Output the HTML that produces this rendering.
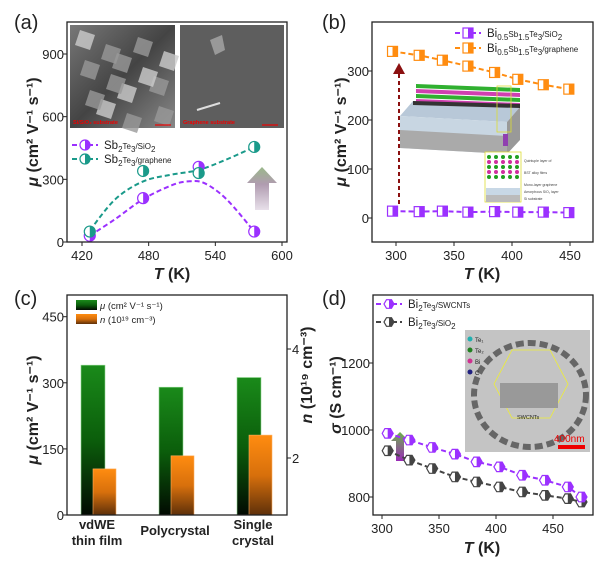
<!DOCTYPE html>
<html><head><meta charset="utf-8"><style>
body{margin:0;background:#fff}
svg{display:block;font-family:"Liberation Sans",Arial,sans-serif}
</style></head><body>
<svg id="fig" width="600" height="580" viewBox="0 0 600 580">
<defs>
<linearGradient id="gGreen" x1="0" y1="0" x2="0" y2="1"><stop offset="0" stop-color="#1a8a1a"/><stop offset="0.5" stop-color="#0b5e0b"/><stop offset="1" stop-color="#020a02"/></linearGradient>
<linearGradient id="gOrange" x1="0" y1="0" x2="0" y2="1"><stop offset="0" stop-color="#ff8c10"/><stop offset="0.5" stop-color="#d8700c"/><stop offset="1" stop-color="#5e300a"/></linearGradient>
<linearGradient id="gArrowA" x1="0" y1="0" x2="0" y2="1"><stop offset="0" stop-color="#9ab88a"/><stop offset="0.4" stop-color="#b09cb0"/><stop offset="1" stop-color="#e8e0ea"/></linearGradient>
<linearGradient id="gArrowD" x1="0" y1="0" x2="0" y2="1"><stop offset="0" stop-color="#6cb04c"/><stop offset="1" stop-color="#9a2ab8"/></linearGradient>
<linearGradient id="gSem1" x1="0" y1="0" x2="1" y2="1"><stop offset="0" stop-color="#777"/><stop offset="0.5" stop-color="#444"/><stop offset="1" stop-color="#888"/></linearGradient>
</defs>
</svg>
<script>
// ---------- data ----------
const aT = [427, 475, 525, 575];
const aSiO2 = [30, 210, 360, 50];
const aGraphene = [50, 340, 330, 455];
const aFitT1 = [427, 450, 475, 500, 515, 530, 550, 575];
const aFitV1 = [30, 110, 205, 270, 290, 282, 205, 50];
const aFitT2 = [427, 450, 475, 500, 525, 550, 575];
const aFitV2 = [55, 205, 290, 322, 345, 395, 455];
const aXTicks = [420, 480, 540, 600];
const aYTicks = [0, 300, 600, 900];

const bT = [297, 320, 340, 362, 385, 405, 427, 449];
const bGraphene = [340, 332, 322, 310, 297, 283, 272, 263];
const bSiO2 = [14, 13, 14, 12, 13, 12, 12, 11];
const bXTicks = [300, 350, 400, 450];
const bYTicks = [0, 100, 200, 300];

const cCategories = [["vdWE","thin film"], ["Polycrystal"], ["Single","crystal"]];
const cMobility = [340, 290, 312];
const cCarrier = [1.8, 2.04, 2.42];
const cYTicks = [0, 150, 300, 450];
const cY2Ticks = [2, 4];

const dT = [305, 324, 344, 364, 383, 403, 423, 443, 463, 475];
const dSWCNT = [990, 970, 948, 928, 905, 890, 865, 850, 830, 800];
const dSiO2 = [938, 910, 885, 860, 845, 830, 815, 805, 795, 785];
const dXTicks = [300, 350, 400, 450];
const dYTicks = [800, 1000, 1200];

// ---------- helpers ----------
const NS = "http://www.w3.org/2000/svg";
const svg = document.getElementById("fig");
function mk(tag, attrs, parent, text) {
  const e = document.createElementNS(NS, tag);
  for (const k in attrs) e.setAttribute(k, attrs[k]);
  if (text !== undefined) e.textContent = text;
  (parent || svg).appendChild(e);
  return e;
}
function lin(d0, d1, r0, r1) { return v => r0 + (v - d0) * (r1 - r0) / (d1 - d0); }
function smooth(pts) {
  let d = "M" + pts[0][0] + "," + pts[0][1];
  for (let i = 0; i < pts.length - 1; i++) {
    const p0 = pts[Math.max(0, i - 1)], p1 = pts[i], p2 = pts[i + 1], p3 = pts[Math.min(pts.length - 1, i + 2)];
    const c1x = p1[0] + (p2[0] - p0[0]) / 6, c1y = p1[1] + (p2[1] - p0[1]) / 6;
    const c2x = p2[0] - (p3[0] - p1[0]) / 6, c2y = p2[1] - (p3[1] - p1[1]) / 6;
    d += " C" + c1x + "," + c1y + " " + c2x + "," + c2y + " " + p2[0] + "," + p2[1];
  }
  return d;
}
function frame(g, x0, y0, x1, y1) {
  const r = mk("rect", {x: x0, y: y0, width: x1 - x0, height: y1 - y0, fill: "none", stroke: "#222", "stroke-width": 1.3}, g);
  
  
}
function xTicks(g, ticks, sx, y, name) {
  ticks.forEach(t => {
    mk("line", {x1: sx(t), x2: sx(t), y1: y, y2: y + 4, stroke: "#222", "stroke-width": 1}, g);
    const tx = mk("text", {x: sx(t), y: y + 18, "text-anchor": "middle", "font-size": 13, fill: "#222"}, g, t);
    
    
  });
}
function yTicks(g, ticks, sy, x, name, right) {
  ticks.forEach(t => {
    mk("line", {x1: x, x2: right ? x + 4 : x - 4, y1: sy(t), y2: sy(t), stroke: "#222", "stroke-width": 1}, g);
    const tx = mk("text", {x: right ? x + 5 : x - 3, y: sy(t) + 5, "text-anchor": right ? "start" : "end", "font-size": 13, fill: "#222"}, g, t);
    
    
  });
}
function label(g, x, y, txt, name) {
  const t = mk("text", {x: x, y: y, "font-size": 20, fill: "#222"}, g, txt);
  
  
}
function xTitle(g, cx, y, name) {
  const t = mk("text", {x: cx, y: y, "text-anchor": "middle", "font-size": 16, "font-weight": "bold", fill: "#222"}, g);
  mk("tspan", {"font-style": "italic"}, t, "T");
  mk("tspan", {}, t, " (K)");
  
  
}
function yTitleMu(g, x, cy, name) {
  const t = mk("text", {x: 0, y: 0, "text-anchor": "middle", "font-size": 16, "font-weight": "bold", fill: "#222", transform: "translate(" + x + "," + cy + ") rotate(-90)"}, g);
  mk("tspan", {"font-style": "italic"}, t, "μ");
  mk("tspan", {}, t, " (cm² V⁻¹ s⁻¹)");
  
  
}
function marker(g, shape, x, y, color, r) {
  const m = mk("g", {}, g);
  if (shape === "circle") {
    mk("circle", {cx: x, cy: y, r: r, fill: "#fff", stroke: color, "stroke-width": 1.2}, m);
    mk("path", {d: "M" + x + "," + (y - r) + " A" + r + "," + r + " 0 0 1 " + x + "," + (y + r) + " Z", fill: color}, m);
  } else if (shape === "square") {
    mk("rect", {x: x - r, y: y - r, width: 2 * r, height: 2 * r, fill: "#fff", stroke: color, "stroke-width": 1.2}, m);
    mk("rect", {x: x, y: y - r, width: r, height: 2 * r, fill: color}, m);
  } else {
    const pts = [];
    for (let i = 0; i < 6; i++) { const a = Math.PI / 3 * i; pts.push((x + r * Math.cos(a)).toFixed(1) + "," + (y + r * Math.sin(a)).toFixed(1)); }
    mk("polygon", {points: pts.join(" "), fill: "#fff", stroke: color, "stroke-width": 1.2}, m);
    mk("path", {d: "M" + x + "," + (y - r * 0.87) + " L" + (x + r * 0.5) + "," + (y - r * 0.87) + " L" + (x + r) + "," + y + " L" + (x + r * 0.5) + "," + (y + r * 0.87) + " L" + x + "," + (y + r * 0.87) + " Z", fill: color}, m);
  }
  return m;
}
function series(g, xs, ys, sx, sy, color, shape, name, r, line) {
  if (line) {
    const pts = xs.map((t, i) => sx(t) + "," + sy(ys[i])).join(" ");
    const pl = mk("polyline", {points: pts, fill: "none", stroke: color, "stroke-width": 2, "stroke-dasharray": "5,3"}, g);
    
    
  }
  xs.forEach((t, i) => {
    const m = marker(g, shape, sx(t), sy(ys[i]), color, r);
    
    
  });
}
function legendEntry(g, x, y, color, shape, html, name) {
  const e = mk("g", {}, g);
  mk("line", {x1: x, x2: x + 26, y1: y, y2: y, stroke: color, "stroke-width": 2, "stroke-dasharray": "5,3"}, e);
  marker(e, shape, x + 13, y, color, 5);
  const t = mk("text", {x: x + 32, y: y + 4, "font-size": 11.5, fill: "#222"}, e);
  html.forEach(p => mk("tspan", p[1] ? {"font-size": 8, dy: p[1]} : {}, t, p[0]));
  
  
}

// ---------- panel (a) ----------
(function () {
  const g = mk("g", {});  
  const sx = lin(420, 600, 82, 282), sy = lin(0, 900, 242, 54);
  const s1 = mk("rect", {x: 70, y: 25, width: 105, height: 103, fill: "url(#gSem1)"}, g);
   
  for (let i = 0; i < 14; i++) mk("polygon", {points: [[80 + (i * 37) % 90, 30 + (i * 23) % 85], [95 + (i * 37) % 90, 35 + (i * 23) % 85], [90 + (i * 37) % 90, 50 + (i * 23) % 85], [75 + (i * 37) % 90, 45 + (i * 23) % 85]].map(p => p.join(",")).join(" "), fill: i % 3 ? "#999" : "#ccc", opacity: 0.8}, g);
  mk("text", {x: 73, y: 124, "font-size": 5.5, fill: "#e00", "font-weight": "bold"}, g, "Si/SiO₂ substrate");
  mk("line", {x1: 155, x2: 171, y1: 125, y2: 125, stroke: "#e00", "stroke-width": 1.2}, g);
  const s2 = mk("rect", {x: 180, y: 25, width: 104, height: 103, fill: "#5e5e5e"}, g);
   
  mk("polygon", {points: "210,40 222,35 225,50 215,55", fill: "#999"}, g);
  mk("line", {x1: 197, x2: 220, y1: 110, y2: 103, stroke: "#ddd", "stroke-width": 2}, g);
  mk("text", {x: 183, y: 124, "font-size": 5.5, fill: "#e00", "font-weight": "bold"}, g, "Graphene substrate");
  mk("line", {x1: 262, x2: 278, y1: 125, y2: 125, stroke: "#e00", "stroke-width": 1.2}, g);
  const f1 = mk("path", {d: smooth(aFitT1.map((t, i) => [sx(t), sy(aFitV1[i])])), fill: "none", stroke: "#9b30ff", "stroke-width": 2, "stroke-dasharray": "5,3"}, g);
   
  const f2 = mk("path", {d: smooth(aFitT2.map((t, i) => [sx(t), sy(aFitV2[i])])), fill: "none", stroke: "#1a9a8a", "stroke-width": 2, "stroke-dasharray": "5,3"}, g);
   
  series(g, aT, aSiO2, sx, sy, "#9b30ff", "circle", "sb2te3-sio2", 5.5, false);
  series(g, aT, aGraphene, sx, sy, "#1a9a8a", "circle", "sb2te3-graphene", 5.5, false);
  const ar = mk("polygon", {points: "255,210 269,210 269,183 277,183 262,167 247,183 255,183", fill: "url(#gArrowA)"}, g);
   
  legendEntry(g, 72, 145, "#9b30ff", "circle", [["Sb"], ["2", 3], ["Te", -3], ["3", 3], ["/SiO", -3], ["2", 3]], "legend-sb2te3-sio2");
  legendEntry(g, 72, 159, "#1a9a8a", "circle", [["Sb"], ["2", 3], ["Te", -3], ["3", 3], ["/graphene", -3]], "legend-sb2te3-graphene");
  frame(g, 67, 22, 287, 242);
  xTicks(g, aXTicks, sx, 242, "a");
  yTicks(g, aYTicks, sy, 67, "a");
  xTitle(g, 172, 279, "a");
  yTitleMu(g, 38, 132, "a");
  label(g, 14, 29, "(a)", "panel-label-a");
})();

// ---------- panel (b) ----------
(function () {
  const g = mk("g", {});  
  const sx = lin(300, 450, 396, 570), sy = lin(0, 300, 218, 71);
  const ins = mk("g", {}, g);  
  mk("polygon", {points: "413,101 520,107 507,122 400,116", fill: "#b8c8d8"}, ins);
  mk("polygon", {points: "400,116 507,122 507,154 400,148", fill: "#c8d6e2"}, ins);
  mk("polygon", {points: "400,130 507,136 507,154 400,148", fill: "#aaa"}, ins);
  mk("polygon", {points: "507,122 520,107 520,140 507,154", fill: "#999"}, ins);
  for (let k = 0; k < 4; k++) mk("polygon", {points: (416) + "," + (84 + k * 5) + " " + 520 + "," + (88 + k * 5) + " " + 520 + "," + (92 + k * 5) + " " + 416 + "," + (88 + k * 5), fill: k % 2 ? "#d040b0" : "#30b030"}, ins);
  mk("polygon", {points: "413,101 520,104 520,108 413,105", fill: "#333"}, ins);
  mk("rect", {x: 497, y: 86, width: 14, height: 46, fill: "none", stroke: "#dd3", "stroke-width": 0.8}, ins);
  mk("rect", {x: 503, y: 134, width: 5, height: 12, fill: "#9040b0"}, ins);
  mk("rect", {x: 485, y: 152, width: 36, height: 50, fill: "#fff", stroke: "#dd3", "stroke-width": 0.8}, ins);
  for (let r = 0; r < 5; r++) for (let c = 0; c < 5; c++) mk("circle", {cx: 489 + c * 7, cy: 157 + r * 5, r: 2, fill: r % 2 ? "#d030a0" : "#20a020"}, ins);
  mk("rect", {x: 486, y: 188, width: 34, height: 7, fill: "#c8d8e6"}, ins);
  mk("rect", {x: 486, y: 195, width: 34, height: 7, fill: "#bbb"}, ins);
  mk("text", {x: 524, y: 162, "font-size": 3.5, fill: "#444"}, ins, "Quintuple layer of");
  mk("text", {x: 524, y: 174, "font-size": 3.5, fill: "#444"}, ins, "BST alloy films");
  mk("text", {x: 524, y: 186, "font-size": 3.5, fill: "#444"}, ins, "Mono-layer graphene");
  mk("text", {x: 524, y: 193, "font-size": 3.5, fill: "#444"}, ins, "Amorphous SiO₂ layer");
  mk("text", {x: 524, y: 200, "font-size": 3.5, fill: "#444"}, ins, "Si substrate");
  const da = mk("line", {x1: 399, x2: 399, y1: 204, y2: 73, stroke: "#8b1010", "stroke-width": 2, "stroke-dasharray": "4,3"}, g);
   
  mk("polygon", {points: "393,74 405,74 399,63", fill: "#8b1010"}, g);
  series(g, bT, bGraphene, sx, sy, "#ff8c10", "square", "bst-graphene", 5, true);
  series(g, bT, bSiO2, sx, sy, "#9b30ff", "square", "bst-sio2", 5, true);
  legendEntry(g, 455, 33, "#9b30ff", "square", [["Bi"], ["0.5", 3], ["Sb", -3], ["1.5", 3], ["Te", -3], ["3", 3], ["/SiO", -3], ["2", 3]], "legend-bst-sio2");
  legendEntry(g, 455, 48, "#ff8c10", "square", [["Bi"], ["0.5", 3], ["Sb", -3], ["1.5", 3], ["Te", -3], ["3", 3], ["/graphene", -3]], "legend-bst-graphene");
  frame(g, 372, 22, 593, 242);
  xTicks(g, bXTicks, sx, 242, "b");
  yTicks(g, bYTicks, sy, 372, "b");
  xTitle(g, 482, 279, "b");
  yTitleMu(g, 346, 132, "b");
  label(g, 322, 29, "(b)", "panel-label-b");
})();

// ---------- panel (c) ----------
(function () {
  const g = mk("g", {});  
  const sy = lin(0, 450, 515, 316.7), sy2 = lin(2, 4, 458, 349);
  const centers = [97, 175, 253];
  cMobility.forEach((v, i) => {
    const b = mk("rect", {x: centers[i] - 16, y: sy(v), width: 24, height: 515 - sy(v), fill: "url(#gGreen)", stroke: "#8fd88f", "stroke-width": 0.6}, g);
     
  });
  cCarrier.forEach((v, i) => {
    const b = mk("rect", {x: centers[i] - 4, y: sy2(v), width: 23, height: 515 - sy2(v), fill: "url(#gOrange)", stroke: "#ffb060", "stroke-width": 0.6}, g);
     
  });
  cCategories.forEach((lines, i) => {
    lines.forEach((ln, j) => {
      const t = mk("text", {x: centers[i], y: (lines.length === 1 ? 535 : 529) + j * 16, "text-anchor": "middle", "font-size": 13, "font-weight": "bold", fill: "#222"}, g, ln);
       
    });
  });
  const l1 = mk("g", {}, g);  
  mk("rect", {x: 76, y: 300, width: 21, height: 10, fill: "url(#gGreen)"}, l1);
  const t1 = mk("text", {x: 100, y: 309, "font-size": 9.5, fill: "#222"}, l1);
  mk("tspan", {"font-style": "italic"}, t1, "μ"); mk("tspan", {}, t1, " (cm² V⁻¹ s⁻¹)");
  const l2 = mk("g", {}, g);  
  mk("rect", {x: 76, y: 314, width: 21, height: 10, fill: "url(#gOrange)"}, l2);
  const t2 = mk("text", {x: 100, y: 323, "font-size": 9.5, fill: "#222"}, l2);
  mk("tspan", {"font-style": "italic"}, t2, "n"); mk("tspan", {}, t2, " (10¹⁹ cm⁻³)");
  frame(g, 67, 295, 287, 515);
  yTicks(g, cYTicks, sy, 67, "c");
  yTicks(g, cY2Ticks, sy2, 287, "c", true);
  yTitleMu(g, 38, 410, "c");
  const yt2 = mk("text", {x: 0, y: 0, "text-anchor": "middle", "font-size": 16, "font-weight": "bold", fill: "#222", transform: "translate(312,375) rotate(-90)"}, g);
  mk("tspan", {"font-style": "italic"}, yt2, "n"); mk("tspan", {}, yt2, " (10¹⁹ cm⁻³)");
   
  label(g, 14, 305, "(c)", "panel-label-c");
})();

// ---------- panel (d) ----------
(function () {
  const g = mk("g", {});  
  const sx = lin(300, 450, 382, 553), sy = lin(800, 1200, 497, 363);
  const ins = mk("g", {}, g);  
  mk("rect", {x: 465, y: 330, width: 125, height: 122, fill: "#c4c4c4"}, ins);
  mk("ellipse", {cx: 530, cy: 395, rx: 56, ry: 52, fill: "none", stroke: "#666", "stroke-width": 6, "stroke-dasharray": "8,4"}, ins);
  mk("polygon", {points: "512,350 550,350 568,384 550,418 512,418 494,384", fill: "none", stroke: "#ee3", "stroke-width": 0.8}, ins);
  mk("rect", {x: 500, y: 383, width: 58, height: 25, fill: "#999"}, ins);
  [["Te₁", "#20b0b0"], ["Te₂", "#208020"], ["Bi", "#d03090"], ["C", "#202080"]].forEach((p, i) => {
    mk("circle", {cx: 470, cy: 339 + i * 11, r: 2.5, fill: p[1]}, ins);
    mk("text", {x: 475, y: 342 + i * 11, "font-size": 6, fill: "#222"}, ins, p[0]);
  });
  mk("text", {x: 517, y: 419, "font-size": 5.5, fill: "#222"}, ins, "SWCNTs");
  mk("rect", {x: 558, y: 445, width: 27, height: 4, fill: "#e00"}, ins);
  mk("text", {x: 554, y: 442, "font-size": 10, fill: "#e00"}, ins, "400nm");
  const ar = mk("polygon", {points: "396,461 404,461 404,441 409,441 400,432 391,441 396,441", fill: "url(#gArrowD)"}, g);
   
  series(g, dT, dSiO2, sx, sy, "#444", "hex", "bi2te3-sio2", 5.5, true);
  series(g, dT, dSWCNT, sx, sy, "#9b30ff", "hex", "bi2te3-swcnts", 5.5, true);
  legendEntry(g, 376, 304, "#9b30ff", "hex", [["Bi"], ["2", 3], ["Te", -3], ["3", 3], ["/SWCNTs", -3]], "legend-bi2te3-swcnts");
  legendEntry(g, 376, 322, "#444", "hex", [["Bi"], ["2", 3], ["Te", -3], ["3", 3], ["/SiO", -3], ["2", 3]], "legend-bi2te3-sio2");
  frame(g, 373, 295, 593, 515);
  xTicks(g, dXTicks, sx, 515, "d");
  yTicks(g, dYTicks, sy, 373, "d");
  xTitle(g, 482, 553, "d");
  const yt = mk("text", {x: 0, y: 0, "text-anchor": "middle", "font-size": 16, "font-weight": "bold", fill: "#222", transform: "translate(341,395) rotate(-90)"}, g);
  mk("tspan", {"font-style": "italic"}, yt, "σ"); mk("tspan", {}, yt, " (S cm⁻¹)");
   
  label(g, 322, 305, "(d)", "panel-label-d");
})();
</script>
</body></html>
